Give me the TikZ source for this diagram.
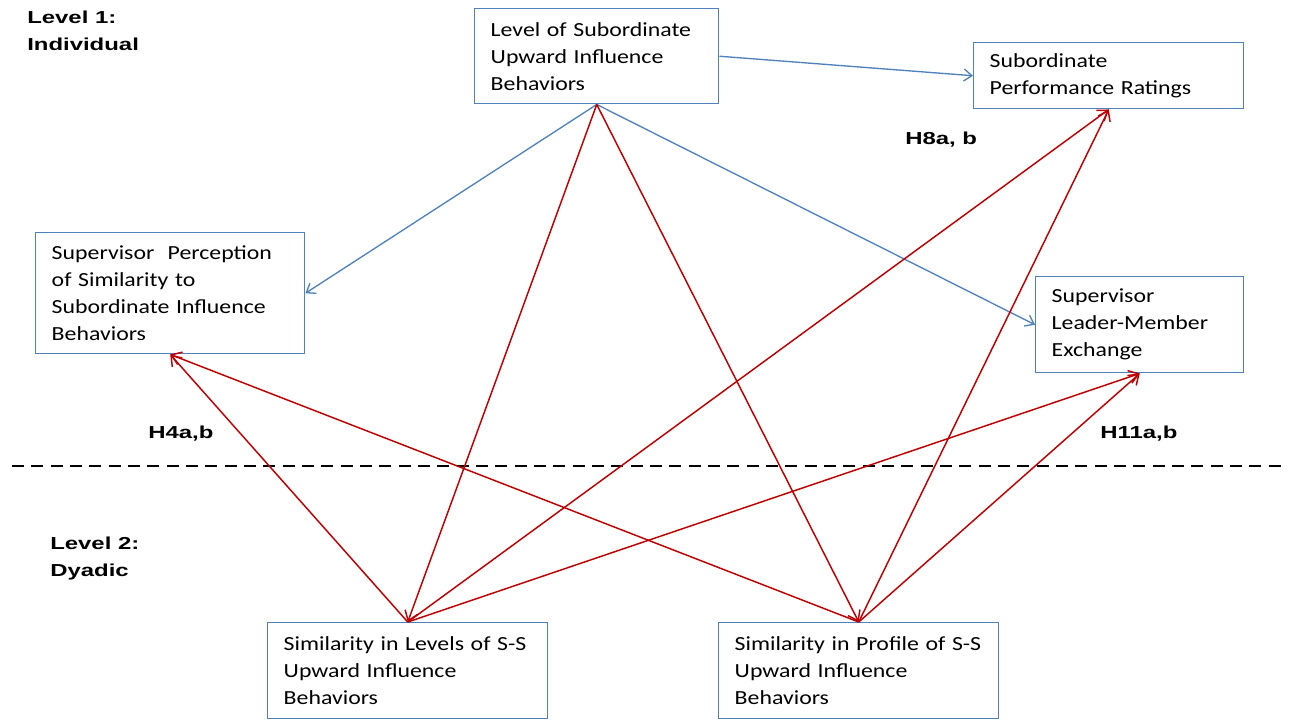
\documentclass[tikz,border=0pt]{standalone}
\usepackage{fontspec}
\setmainfont{Carlito}[FakeStretch=1.19]
\newfontfamily\labfont{Liberation Sans}[FakeStretch=1.38]
\usetikzlibrary{arrows.meta}
\definecolor{boxblue}{RGB}{79,129,189}
\definecolor{arrred}{RGB}{192,0,0}
\begin{document}
\begin{tikzpicture}[x=0.75pt,y=-0.75pt,
  cbox/.style={draw=boxblue,line width=1.1pt,anchor=north west,align=left,
    inner xsep=12pt,inner ysep=2pt,font=\fontsize{15}{20.25}\selectfont},
  blueline/.style={draw=boxblue,line width=1pt,-{Straight Barb[length=6pt,width=9pt,line width=1pt]}},
  redline/.style={draw=arrred,line width=1.1pt,-{Straight Barb[length=7pt,width=10pt,line width=1.1pt]}},
  lab/.style={font=\labfont\bfseries\fontsize{13}{20}\selectfont,align=left,inner sep=0pt}]
\useasboundingbox (0,0) rectangle (1291,719);
% boxes
\node[cbox,minimum width=183pt,minimum height=71.25pt,text width=159pt] (lev) at (474,8)
  {Level of Subordinate\\Upward Influence\\Behaviors};
\node[cbox,minimum width=202.5pt,minimum height=49.5pt,text width=178.5pt] (pr) at (973,42)
  {\raisebox{-2pt}{Subordinate}\\\raisebox{-2pt}{Performance Ratings}};
\node[cbox,minimum width=201.75pt,minimum height=90.75pt,text width=177.75pt] (perc) at (35,232)
  {Supervisor\ \ Perception\\of Similarity to\\Subordinate Influence\\Behaviors};
\node[cbox,minimum width=156pt,minimum height=72pt,text width=132pt] (lmx) at (1035,276)
  {Supervisor\\Leader-Member\\Exchange};
\node[cbox,minimum width=210pt,minimum height=72pt,text width=186pt] (slev) at (267,622)
  {Similarity in Levels of S-S\\Upward Influence\\Behaviors};
\node[cbox,minimum width=210pt,minimum height=72pt,text width=186pt] (sprof) at (718,622)
  {Similarity in Profile of S-S\\Upward Influence\\Behaviors};
% labels
\node[lab,anchor=north west] (l1) at (27,11) {Level 1:\\Individual};
\node[lab,anchor=north west] (l2) at (50,537) {Level 2:\\Dyadic};
\node[lab,anchor=west] (h8) at (905,140) {H8a, b};
\node[lab,anchor=west] (h4) at (148,434) {H4a,b};
\node[lab,anchor=west] (h11) at (1100,434) {H11a,b};
% dashed divider
\coordinate (dl) at (12,466);
\coordinate (dr) at (1285,466);
\draw[line width=2.2pt,dash pattern=on 9pt off 5.5pt] (dl) -- (dr);
% blue arrows
\draw[blueline] (lev.east) -- (pr.west);
\draw[blueline] (lev.south) -- (perc.east);
\draw[blueline] (lev.south) -- (lmx.west);
% red arrows
\draw[redline] (lev.south) -- (slev.north);
\draw[redline] (lev.south) -- (sprof.north);
\draw[redline] (slev.north) -- (perc.south);
\draw[redline] (sprof.north) -- (perc.south);
\draw[redline] (slev.north) -- (pr.south);
\draw[redline] (sprof.north) -- (pr.south);
\draw[redline] (slev.north) -- (lmx.south);
\draw[redline] (sprof.north) -- (lmx.south);
\end{tikzpicture}
\end{document}
